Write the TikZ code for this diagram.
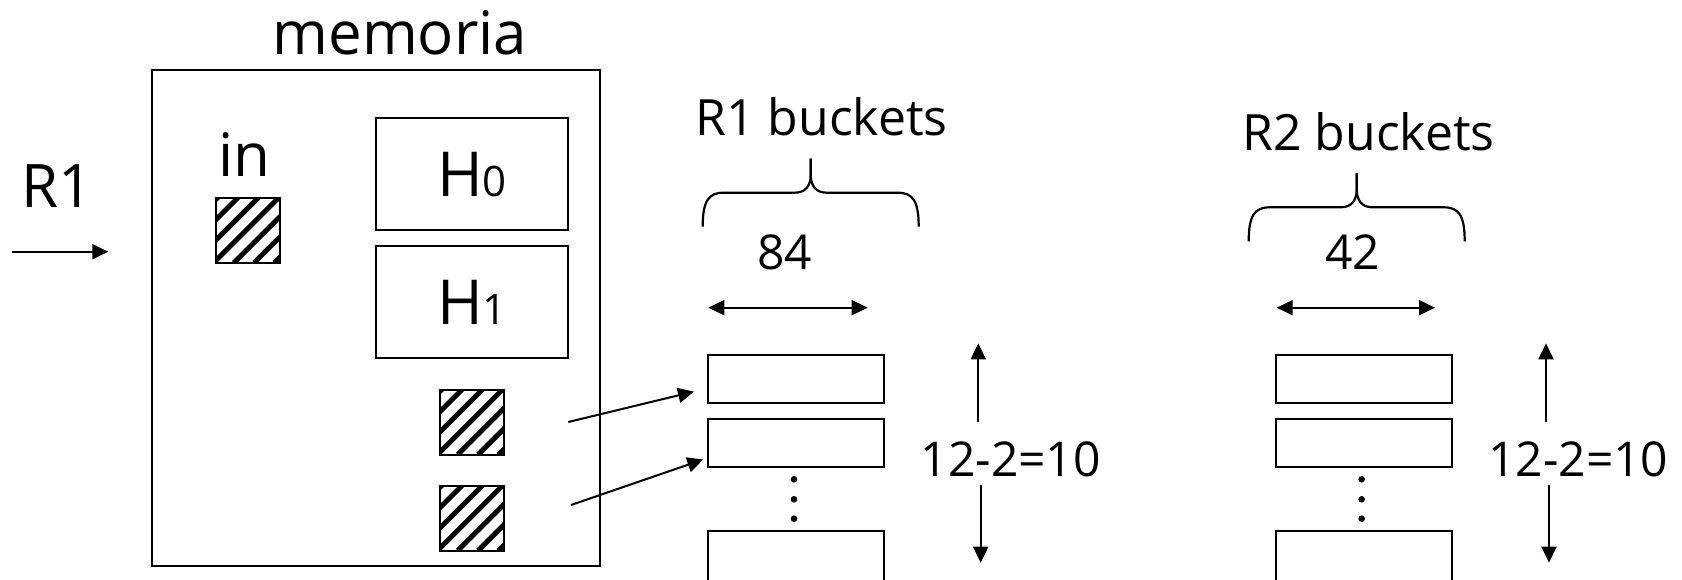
\documentclass[tikz,border=0pt]{standalone}
\usepackage{fontspec}
\setmainfont{Open Sans}
\usetikzlibrary{arrows.meta,calc}
\begin{document}
\begin{tikzpicture}[x=1pt,y=-1pt,
  txt/.style={inner sep=0pt, anchor=base},
  bigtxt/.style={txt, font=\fontsize{60}{72}\selectfont},
  midtxt/.style={txt, font=\fontsize{50}{60}\selectfont},
  numtxt/.style={txt, font=\fontsize{48}{58}\selectfont},
  frame/.style={draw, line width=2.4pt, inner sep=0pt},
  hbox/.style={draw, line width=2.2pt, inner sep=0pt, minimum width=192.6pt, minimum height=112pt,
    font=\fontsize{62}{70}\selectfont},
  bucket/.style={draw, line width=2.2pt, inner sep=0pt, minimum width=176.5pt, minimum height=48pt},
  hatchbox/.style={draw, line width=2.2pt, inner sep=0pt, minimum width=64.6pt, minimum height=64.6pt,
    path picture={
      \foreach \k in {-4,...,4}
        \draw[line width=5pt]
          ([xshift=\k*20.3pt-2.2pt]path picture bounding box.south west) -- ++(66,-66);
    }},
  arr/.style={line width=2pt, -{Triangle[length=16pt,width=15pt]}},
  darr/.style={line width=2pt, {Triangle[length=16pt,width=15pt]}-{Triangle[length=16pt,width=15pt]}},
  bucketbrace/.pic={
    \draw[line width=2.2pt] (0,-34) -- (0,-18) .. controls (0,-6) and (-6,0) .. (-16,0)
      -- (-87,0) .. controls (-102,0) and (-108,8) .. (-108,34);
    \draw[line width=2.2pt] (0,-34) -- (0,-18) .. controls (0,-6) and (6,0) .. (16,0)
      -- (87,0) .. controls (102,0) and (108,8) .. (108,34);
  }]
\useasboundingbox (0,0) rectangle (1682,579);

% memory with its buffers
\node[bigtxt] (memlabel) at (400,54) {memoria};
\node[frame, minimum width=448.3pt, minimum height=496pt] (mem) at (375.85,318) {};
\node[bigtxt] (inlabel) at (244.2,176.7) {in};
\node[hatchbox] (inbuf) at (248,230.5) {};
\node[hbox] (h0) at (472,174.3) {H{\fontsize{42}{42}\selectfont 0}};
\node[hbox] (h1) at (472,302.15) {H{\fontsize{42}{42}\selectfont 1}};
\node[hatchbox] (out1) at (472,422.35) {};
\node[hatchbox] (out2) at (472,518.35) {};

% incoming relation
\node[bigtxt] (r1label) at (57.5,207.7) {R1};
\coordinate (r1from) at (11.7,251.7);
\coordinate (r1to) at (108.3,251.7);
\draw[arr] (r1from) -- (r1to);

% R1 buckets
\node[midtxt] (r1title) at (821.5,135) {R1 buckets};
\pic at (810.7,192.7) {bucketbrace};
\node[numtxt] (r1width) at (784.7,269.3) {84};
\coordinate (r1wl) at (708.3,307.7);
\coordinate (r1wr) at (867.7,307.7);
\draw[darr] (r1wl) -- (r1wr);
\node[bucket] (r1a) at (796,379) {};
\node[bucket] (r1b) at (796,443.3) {};
\node[bucket, minimum height=50pt] (r1c) at (796,556) {};
\foreach \y in {479.3,499.3,518.7} \fill (794,\y) circle (3.3);
\node[numtxt] (r1count) at (1010.7,476.7) {12-2=10};
\coordinate (r1up0) at (978.3,421.7);
\coordinate (r1up1) at (978.3,343.3);
\coordinate (r1dn0) at (980.7,485);
\coordinate (r1dn1) at (980.7,562.7);
\draw[arr] (r1up0) -- (r1up1);
\draw[arr] (r1dn0) -- (r1dn1);

% output buffers flushed into the buckets
\coordinate (s1) at (568.3,422);
\coordinate (s2) at (571,505);
\draw[arr, shorten >=13pt] (s1) -- ($(r1a.west)+(0,9.5)$);
\draw[arr, shorten >=3.5pt] (s2) -- ($(r1b.west)+(0,15)$);

% R2 buckets
\node[midtxt] (r2title) at (1368.4,150) {R2 buckets};
\pic at (1356.7,207.3) {bucketbrace};
\node[numtxt] (r2width) at (1352.8,269.3) {42};
\coordinate (r2wl) at (1276.7,307.7);
\coordinate (r2wr) at (1435,307.7);
\draw[darr] (r2wl) -- (r2wr);
\node[bucket] (r2a) at (1363.85,379) {};
\node[bucket] (r2b) at (1363.85,443.3) {};
\node[bucket, minimum height=50pt] (r2c) at (1363.85,556) {};
\foreach \y in {479.3,499.3,518.7} \fill (1361.7,\y) circle (3.3);
\node[numtxt] (r2count) at (1578.3,476.7) {12-2=10};
\coordinate (r2up0) at (1546,421.7);
\coordinate (r2up1) at (1546,343.3);
\coordinate (r2dn0) at (1549,485);
\coordinate (r2dn1) at (1549,562.7);
\draw[arr] (r2up0) -- (r2up1);
\draw[arr] (r2dn0) -- (r2dn1);
\end{tikzpicture}
\end{document}
